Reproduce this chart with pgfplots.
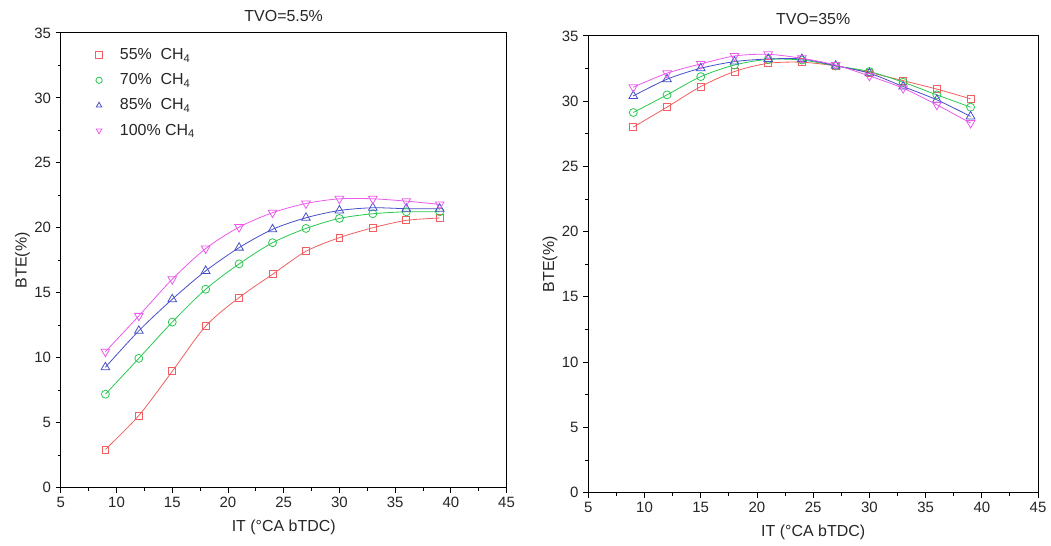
\documentclass[border=0pt]{standalone}
\usepackage{pgfplots}
\pgfplotsset{compat=1.18}
\usepackage{fontspec}
\setmainfont{Liberation Sans}
\definecolor{cA}{RGB}{240,95,95}
\definecolor{cB}{RGB}{40,200,80}
\definecolor{cC}{RGB}{70,80,200}
\definecolor{cD}{RGB}{235,90,235}
\pgfplotstableread{
x   a     b     c     d
9   2.94  7.19  9.26  10.46
12  5.55  9.95  12.07 13.22
15  8.95  12.74 14.50 16.04
18  12.43 15.27 16.68 18.40
21  14.63 17.22 18.47 20.05
24  16.42 18.85 19.88 21.16
27  18.19 19.95 20.77 21.87
30  19.24 20.72 21.33 22.23
33  20.00 21.08 21.54 22.23
36  20.57 21.23 21.47 22.05
39  20.75 21.23 21.47 21.80
}\tvoA
\pgfplotstableread{
x   a     b     c     d
9   28.01 29.13 30.40 31.07
12  29.54 30.48 31.68 32.14
15  31.12 31.88 32.52 32.85
18  32.27 32.77 33.03 33.46
21  32.90 33.20 33.23 33.59
24  32.98 33.15 33.23 33.28
27  32.70 32.70 32.72 32.77
30  32.19 32.27 32.14 31.93
33  31.57 31.45 31.12 30.99
36  30.92 30.48 30.10 29.72
39  30.18 29.54 28.83 28.32
}\tvoB
\begin{document}
\fontsize{14}{16}\selectfont
\begin{tikzpicture}
\pgfplotsset{
  common/.style={
    scale only axis,
    xmin=5, xmax=45, ymin=0, ymax=35,
    xtick={5,10,...,45}, ytick={0,5,...,35},
    minor x tick num=1, minor y tick num=1,
    tick align=outside, xtick pos=bottom, ytick pos=left,
    major tick length=5pt, minor tick length=3pt,
    /pgf/number format/assume math mode=true,
    tick label style={font=\fontsize{15}{17}\selectfont, text=black!85},
    label style={font=\fontsize{16}{18}\selectfont, text=black!85},
    title style={font=\fontsize{16}{18}\selectfont, text=black!85},
    xlabel={IT (°CA bTDC)}, ylabel={BTE(\%)},
    axis line style={line width=0.9pt},
    every tick/.style={line width=0.9pt, black},
    xlabel style={yshift=-2pt},
    ylabel style={yshift=-5pt},
  },
  sA/.style={cA, line width=0.8pt, smooth, mark=square, mark size=3.5pt, mark options={solid, line width=0.8pt}},
  sB/.style={cB, line width=0.8pt, smooth, mark=o, mark size=4pt, mark options={solid, line width=0.8pt}},
  sC/.style={cC, line width=0.8pt, smooth, mark=triangle, mark size=5pt, mark options={solid, line width=0.8pt}},
  sD/.style={cD, line width=0.8pt, smooth, mark=triangle, mark size=5pt, mark options={solid, rotate=180, line width=0.8pt}},
}
\path (-61pt,489pt) (-61pt,-58pt);
\begin{axis}[common, at={(0pt,0pt)}, anchor=south west, width=447pt, height=456pt,
  title={TVO=5.5\%},
  legend style={draw=none, fill=none, at={(0.065,0.975)}, anchor=north west,
    font=\fontsize{16}{18}\selectfont, row sep=8pt, text=black!85},
  legend cell align=left,
  legend image code/.code={\path (0cm,0cm) (0.85cm,0cm); \draw[#1, only marks, mark size=3.2pt] plot coordinates {(0.2cm,0cm)};},
]
\addplot[sA] table[x=x,y=a]{\tvoA}; \addlegendentry{55\%\ \ CH\textsubscript{4}}
\addplot[sB] table[x=x,y=b]{\tvoA}; \addlegendentry{70\%\ \ CH\textsubscript{4}}
\addplot[sC] table[x=x,y=c]{\tvoA}; \addlegendentry{85\%\ \ CH\textsubscript{4}}
\addplot[sD] table[x=x,y=d]{\tvoA}; \addlegendentry{100\% CH\textsubscript{4}}
\end{axis}
\begin{axis}[common, at={(529pt,-5pt)}, anchor=south west, width=451pt, height=458pt,
  title={TVO=35\%}]
\addplot[sA] table[x=x,y=a]{\tvoB};
\addplot[sB] table[x=x,y=b]{\tvoB};
\addplot[sC] table[x=x,y=c]{\tvoB};
\addplot[sD] table[x=x,y=d]{\tvoB};
\end{axis}
\end{tikzpicture}
\end{document}
